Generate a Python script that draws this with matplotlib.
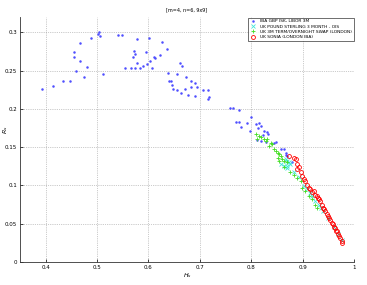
import matplotlib
matplotlib.use('Agg')
import matplotlib.pyplot as plt

# ======================
# data
# ======================
libor_x = [0.394, 0.415, 0.434, 0.448, 0.460, 0.456, 0.456, 0.467, 0.467, 0.475,
           0.480, 0.489, 0.503, 0.505, 0.502, 0.511, 0.540, 0.548, 0.555, 0.567,
           0.573, 0.570, 0.572, 0.574, 0.577, 0.578, 0.583, 0.590, 0.596, 0.597,
           0.601, 0.604, 0.607, 0.610, 0.612, 0.623, 0.626, 0.636, 0.639, 0.640,
           0.644, 0.646, 0.647, 0.656, 0.655, 0.662, 0.665, 0.664, 0.671, 0.674,
           0.677, 0.682, 0.683, 0.690, 0.691, 0.695, 0.706, 0.715, 0.717, 0.715,
           0.758, 0.765, 0.777, 0.771, 0.777, 0.780, 0.791, 0.797, 0.799, 0.809,
           0.815, 0.818, 0.813, 0.825, 0.831, 0.833, 0.822, 0.812, 0.818, 0.828,
           0.844, 0.849, 0.857, 0.863, 0.867, 0.870, 0.867, 0.880]
libor_y = [0.226, 0.230, 0.237, 0.237, 0.249, 0.268, 0.275, 0.286, 0.262, 0.242,
           0.255, 0.293, 0.300, 0.295, 0.298, 0.246, 0.297, 0.297, 0.254, 0.253,
           0.253, 0.268, 0.276, 0.272, 0.260, 0.292, 0.253, 0.256, 0.275, 0.259,
           0.293, 0.262, 0.253, 0.268, 0.267, 0.270, 0.288, 0.278, 0.247, 0.236,
           0.237, 0.231, 0.226, 0.225, 0.245, 0.260, 0.256, 0.221, 0.226, 0.242,
           0.218, 0.236, 0.228, 0.234, 0.217, 0.228, 0.225, 0.225, 0.216, 0.213,
           0.201, 0.201, 0.199, 0.183, 0.183, 0.177, 0.182, 0.171, 0.189, 0.180,
           0.182, 0.178, 0.175, 0.171, 0.170, 0.167, 0.166, 0.160, 0.158, 0.157,
           0.156, 0.157, 0.148, 0.147, 0.142, 0.139, 0.140, 0.131]

ois_x = [0.857, 0.863, 0.870, 0.867, 0.870, 0.873, 0.876, 0.870, 0.883, 0.892,
         0.902, 0.908, 0.915, 0.919, 0.924, 0.931, 0.935, 0.940, 0.950, 0.960,
         0.969, 0.976]
ois_y = [0.128, 0.125, 0.123, 0.134, 0.132, 0.130, 0.128, 0.125, 0.118, 0.111,
         0.099, 0.095, 0.090, 0.086, 0.079, 0.075, 0.071, 0.066, 0.058, 0.046,
         0.036, 0.028]

swap_x = [0.809, 0.815, 0.811, 0.819, 0.825, 0.828, 0.831, 0.838, 0.841, 0.835,
          0.844, 0.848, 0.851, 0.854, 0.857, 0.851, 0.860, 0.863, 0.870, 0.854,
          0.863, 0.876, 0.883, 0.889, 0.896, 0.899, 0.905, 0.912, 0.918, 0.924,
          0.927]
swap_y = [0.167, 0.165, 0.161, 0.163, 0.161, 0.158, 0.161, 0.156, 0.154, 0.152,
          0.147, 0.145, 0.143, 0.141, 0.139, 0.136, 0.134, 0.132, 0.130, 0.132,
          0.124, 0.117, 0.114, 0.110, 0.106, 0.097, 0.093, 0.086, 0.082, 0.075,
          0.071]

sonia_x = [0.873, 0.883, 0.886, 0.889, 0.892, 0.889, 0.896, 0.899, 0.902, 0.905,
           0.908, 0.912, 0.915, 0.921, 0.924, 0.927, 0.931, 0.934, 0.937, 0.940,
           0.944, 0.947, 0.950, 0.953, 0.956, 0.960, 0.963, 0.966, 0.969, 0.972,
           0.976, 0.977, 0.918, 0.929, 0.942, 0.952, 0.958, 0.965, 0.971]
sonia_y = [0.139, 0.136, 0.134, 0.128, 0.124, 0.121, 0.117, 0.112, 0.108, 0.106,
           0.101, 0.097, 0.095, 0.093, 0.088, 0.086, 0.082, 0.079, 0.075, 0.071,
           0.066, 0.062, 0.060, 0.055, 0.051, 0.046, 0.044, 0.040, 0.036, 0.031,
           0.027, 0.025, 0.091, 0.084, 0.069, 0.057, 0.049, 0.041, 0.034]

labels = ['IBA GBP ISK, LIBOR 3M',
          'UK POUND STERLING 3 MONTH - OIS',
          'UK 3M TERM/OVERNIGHT SWAP (LONDON)',
          'UK SONIA (LONDON IBA)']

x_ticks = [0.4, 0.5, 0.6, 0.7, 0.8, 0.9, 1.0]
x_ticklabels = ['0.4', '0.5', '0.6', '0.7', '0.8', '0.9', '1']
y_ticks = [0, 0.05, 0.1, 0.15, 0.2, 0.25, 0.3]
y_ticklabels = ['0', '0.05', '0.1', '0.15', '0.2', '0.25', '0.3']

# ======================
# plot
# ======================
fig = plt.figure(figsize=(3.67, 2.85), dpi=100)
ax = fig.add_axes([0.054, 0.081, 0.911, 0.859])

ax.plot(libor_x, libor_y, '.', color='#4f4fff', ms=1.6, label=labels[0])
ax.plot(ois_x, ois_y, 'x', color='#40e8d8', ms=2.3, mew=0.6, label=labels[1])
ax.plot(swap_x, swap_y, '+', color='#44dd22', ms=2.8, mew=0.6, label=labels[2])
ax.plot(sonia_x, sonia_y, 'o', color='red', mfc='none', ms=2.8, mew=0.6, label=labels[3])

ax.set_xlim(0.35, 1.0)
ax.set_ylim(0, 0.32)
ax.set_xticks(x_ticks)
ax.set_xticklabels(x_ticklabels)
ax.set_yticks(y_ticks)
ax.set_yticklabels(y_ticklabels)
ax.tick_params(direction='in', length=2, width=0.5, labelsize=4, pad=2)
ax.grid(True, linestyle=':', color='#999999', linewidth=0.5)

for s in ['top', 'right']:
    ax.spines[s].set_visible(False)
for s in ['left', 'bottom']:
    ax.spines[s].set_linewidth(0.6)
    ax.spines[s].set_color('#333333')

ax.set_title('[m=4, n=6, 9x9]', fontsize=3.5, pad=4)
ax.set_xlabel(r'$H_s$', fontsize=4.5, labelpad=1)
ax.set_ylabel(r'$R_s$', fontsize=4.5)
ax.yaxis.set_label_coords(-0.03, 0.54)

leg = ax.legend(loc='upper right', fontsize=3.2, frameon=True, fancybox=False,
                borderpad=0.4, handlelength=1.5, labelspacing=0.25,
                borderaxespad=0.1)
leg.get_frame().set_edgecolor('black')
leg.get_frame().set_linewidth(0.5)

fig.savefig('out.png', dpi=100)
